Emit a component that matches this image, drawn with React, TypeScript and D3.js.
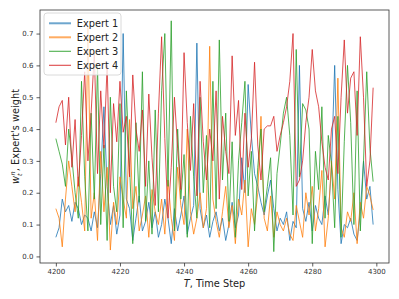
import { useEffect, useRef } from 'react';
import * as d3 from 'd3';

const startStep = 4200;
const xTicks = [4200, 4220, 4240, 4260, 4280, 4300];
const yTicks = [0.0, 0.1, 0.2, 0.3, 0.4, 0.5, 0.6, 0.7];
const expertNames = ['Expert 1', 'Expert 2', 'Expert 3', 'Expert 4'];
const expertColors = ['#1f77b4', '#ff7f0e', '#2ca02c', '#d62728'];

const expert1 = [
    0.06, 0.09, 0.18, 0.14, 0.16, 0.11, 0.17, 0.15, 0.10, 0.13,
    0.12, 0.08, 0.14, 0.09, 0.26, 0.47, 0.22, 0.10, 0.16, 0.07,
    0.13, 0.70, 0.18, 0.15, 0.05, 0.12, 0.19, 0.08, 0.11, 0.17,
    0.09, 0.14, 0.06, 0.10, 0.18, 0.12, 0.04, 0.15, 0.08, 0.13,
    0.19, 0.07, 0.12, 0.16, 0.67, 0.15, 0.09, 0.13, 0.06, 0.11,
    0.14, 0.08, 0.12, 0.05, 0.10, 0.17, 0.09, 0.13, 0.31, 0.20,
    0.54, 0.38, 0.26, 0.22, 0.17, 0.13, 0.19, 0.24, 0.15, 0.08,
    0.12, 0.10, 0.14, 0.05, 0.11, 0.09, 0.60, 0.15, 0.11, 0.17,
    0.08, 0.16, 0.12, 0.10, 0.19, 0.13, 0.28, 0.60, 0.21, 0.04,
    0.10, 0.09, 0.12, 0.07, 0.05, 0.14, 0.30, 0.18, 0.22, 0.10,
];

const expert2 = [
    0.15, 0.12, 0.03, 0.18, 0.30, 0.22, 0.14, 0.25, 0.17, 0.08,
    0.72, 0.12, 0.20, 0.05, 0.33, 0.14, 0.28, 0.02, 0.17, 0.10,
    0.25, 0.18, 0.12, 0.43, 0.15, 0.22, 0.08, 0.13, 0.19, 0.06,
    0.21, 0.14, 0.10, 0.18, 0.07, 0.24, 0.12, 0.05, 0.28, 0.16,
    0.10, 0.40, 0.14, 0.07, 0.12, 0.20, 0.09, 0.15, 0.66, 0.18,
    0.11, 0.06, 0.14, 0.22, 0.09, 0.16, 0.04, 0.18, 0.13, 0.24,
    0.03, 0.15, 0.10, 0.20, 0.44, 0.12, 0.08, 0.19, 0.06, 0.14,
    0.10, 0.08, 0.12, 0.07, 0.05, 0.16, 0.11, 0.06, 0.20, 0.13,
    0.22, 0.08, 0.15, 0.27, 0.03, 0.12, 0.30, 0.18, 0.56, 0.09,
    0.06, 0.14, 0.11, 0.20, 0.04, 0.17, 0.12, 0.22, 0.19, 0.146,
];

const expert3 = [
    0.37, 0.33, 0.29, 0.22, 0.40, 0.31, 0.20, 0.12, 0.55, 0.25,
    0.08, 0.45, 0.18, 0.60, 0.10, 0.35, 0.05, 0.50, 0.22, 0.14,
    0.48, 0.09, 0.52, 0.28, 0.04, 0.42, 0.17, 0.58, 0.11, 0.30,
    0.07, 0.46, 0.14, 0.52, 0.70, 0.22, 0.74, 0.08, 0.40, 0.18,
    0.32, 0.06, 0.44, 0.25, 0.12, 0.50, 0.20, 0.38, 0.09, 0.55,
    0.15, 0.68, 0.24, 0.45, 0.11, 0.36, 0.06, 0.30, 0.42, 0.55,
    0.19, 0.33, 0.08, 0.28, 0.40, 0.14, 0.22, 0.31, 0.015, 0.26,
    0.35, 0.45, 0.50, 0.38, 0.13, 0.65, 0.25, 0.48, 0.46, 0.40,
    0.04, 0.33, 0.21, 0.47, 0.12, 0.38, 0.29, 0.09, 0.44, 0.06,
    0.36, 0.60, 0.42, 0.10, 0.52, 0.08, 0.30, 0.58, 0.34, 0.235,
];

const expert4 = [
    0.42, 0.47, 0.49, 0.35, 0.50, 0.28, 0.43, 0.22, 0.38, 0.58,
    0.30, 0.45, 0.64, 0.26, 0.52, 0.34, 0.60, 0.20, 0.48, 0.36,
    0.55, 0.39, 0.44, 0.25, 0.57, 0.40, 0.33, 0.46, 0.22, 0.51,
    0.31, 0.16, 0.45, 0.69, 0.37, 0.12, 0.28, 0.50, 0.34, 0.21,
    0.64, 0.42, 0.27, 0.48, 0.19, 0.55, 0.36, 0.24, 0.40, 0.30,
    0.52, 0.18, 0.44, 0.33, 0.26, 0.63, 0.38, 0.49, 0.21, 0.45,
    0.28, 0.37, 0.61, 0.35, 0.24, 0.40, 0.41, 0.41, 0.44, 0.33,
    0.38, 0.42, 0.47, 0.55, 0.70, 0.22, 0.24, 0.30, 0.42, 0.50,
    0.65, 0.52, 0.47, 0.36, 0.28, 0.24, 0.40, 0.44, 0.26, 0.50,
    0.68, 0.45, 0.56, 0.58, 0.38, 0.69, 0.50, 0.22, 0.30, 0.53,
];

const seriesList = [expert1, expert2, expert3, expert4];

const WeightsChart = () => {
    const svgRef = useRef<SVGSVGElement>(null);

    useEffect(() => {
        if (!svgRef.current) return;
        d3.select(svgRef.current).selectAll('*').remove();

        const W = 399, H = 299;
        const margin = { top: 10, right: 10, bottom: 36, left: 40 };
        const width = W - margin.left - margin.right;
        const height = H - margin.top - margin.bottom;

        const svg = d3.select(svgRef.current)
            .attr('width', W)
            .attr('height', H)
            .style('font-family', 'DejaVu Sans, sans-serif');

        svg.append('rect').attr('width', W).attr('height', H).attr('fill', '#fff');

        const g = svg.append('g').attr('transform', `translate(${margin.left},${margin.top})`);

        const x = d3.scaleLinear().domain([4195.05, 4303.95]).range([0, width]);
        const y = d3.scaleLinear().domain([-0.0207, 0.774]).range([height, 0]);

        const line = d3.line<number>()
            .x((_, i) => x(startStep + i))
            .y(d => y(d));

        seriesList.forEach((s, k) => {
            g.append('path')
                .datum(s)
                .attr('d', line)
                .attr('fill', 'none')
                .attr('stroke', expertColors[k])
                .attr('stroke-opacity', 0.8)
                .attr('stroke-width', 1)
                .attr('stroke-linejoin', 'round');
        });

        // axes
        const xAxis = g.append('g')
            .attr('transform', `translate(0,${height})`)
            .call(d3.axisBottom(x).tickValues(xTicks).tickFormat(d3.format('d')).tickSizeOuter(0).tickSize(3.5).tickPadding(3));
        const yAxis = g.append('g')
            .call(d3.axisLeft(y).tickValues(yTicks).tickFormat(d3.format('.1f')).tickSizeOuter(0).tickSize(3.5).tickPadding(3));

        [xAxis, yAxis].forEach(a => {
            a.select('.domain').remove();
            a.selectAll('line').attr('stroke', '#333').attr('stroke-width', 0.8);
            a.selectAll('text').attr('fill', '#333').style('font-size', '7px').style('font-family', 'DejaVu Sans, sans-serif');
        });

        g.append('rect')
            .attr('width', width)
            .attr('height', height)
            .attr('fill', 'none')
            .attr('stroke', '#333')
            .attr('stroke-width', 0.8);

        // legend
        const lg = g.append('g').attr('transform', 'translate(4,3)');
        lg.append('rect')
            .attr('width', 77)
            .attr('height', 62)
            .attr('rx', 3)
            .attr('fill', 'rgba(255,255,255,0.8)')
            .attr('stroke', '#d0d0d0')
            .attr('stroke-width', 0.8);
        expertNames.forEach((name, k) => {
            const yy = 10.3 + k * 14;
            lg.append('line')
                .attr('x1', 5).attr('x2', 27)
                .attr('y1', yy).attr('y2', yy)
                .attr('stroke', expertColors[k])
                .attr('stroke-opacity', k < 2 ? 0.65 : 0.85)
                .attr('stroke-width', k < 2 ? 2 : 1.1);
            lg.append('text')
                .attr('x', 32.7)
                .attr('y', yy)
                .attr('dy', '0.35em')
                .attr('fill', '#222')
                .style('font-size', '9.8px')
                .text(name);
        });

        // axis labels
        const xl = svg.append('text')
            .attr('x', margin.left + width / 2)
            .attr('y', 287)
            .attr('text-anchor', 'middle')
            .attr('fill', '#222')
            .style('font-size', '9.8px');
        xl.append('tspan').style('font-style', 'italic').text('T');
        xl.append('tspan').text(', Time Step');

        const yl = svg.append('text')
            .attr('transform', `translate(19,${margin.top + height / 2}) rotate(-90)`)
            .attr('text-anchor', 'middle')
            .attr('fill', '#222')
            .style('font-size', '9.8px');
        yl.append('tspan').style('font-style', 'italic').text('w');
        yl.append('tspan').style('font-style', 'italic').style('font-size', '6.5px').attr('dy', 2.5).text('t');
        yl.append('tspan').style('font-style', 'italic').style('font-size', '6.5px').attr('dx', -2).attr('dy', -6.5).text('n');
        yl.append('tspan').attr('dy', 4).text(", Expert's weight");
    }, []);

    return <svg ref={svgRef} style={{ display: 'block' }}></svg>;
};

export default function App() {
    return (
        <div style={{ margin: -8 }}>
            <WeightsChart />
        </div>
    );
}
